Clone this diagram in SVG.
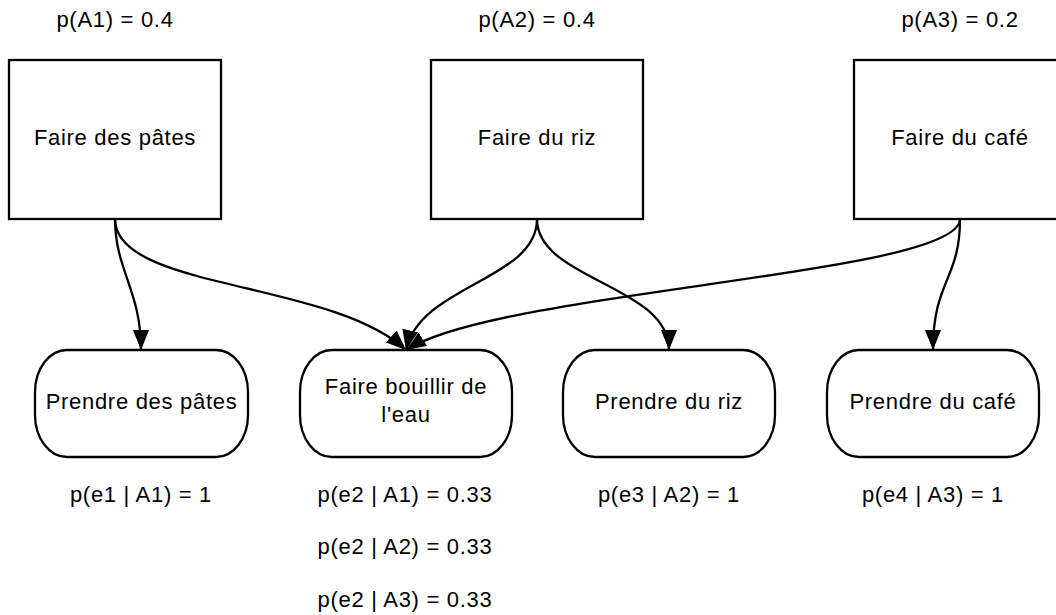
<svg xmlns="http://www.w3.org/2000/svg" width="1056" height="615" viewBox="0 0 1056 615">
  <style>
    .box { fill: #ffffff; stroke: #000000; stroke-width: 2.3; }
    .edge { fill: none; stroke: #000000; stroke-width: 2.3; }
    text { font-family: "Liberation Sans", Arial, sans-serif; font-size: 22px; letter-spacing: 0.7px; fill: #000000; text-anchor: middle; }
  </style>
  <defs>
    <marker id="arrow" markerUnits="userSpaceOnUse" markerWidth="21" markerHeight="17" refX="20" refY="8" orient="auto">
      <path d="M0,0 L20,8 L0,16 Z" fill="#000000"/>
    </marker>
  </defs>
  <rect width="1056" height="615" fill="#ffffff"/>

  <!-- prior probabilities -->
  <g id="priors">
    <text x="115" y="27">p(A1) = 0.4</text>
    <text x="537" y="27">p(A2) = 0.4</text>
    <text x="960" y="27">p(A3) = 0.2</text>
  </g>

  <!-- connectors -->
  <g id="connectors">
    <path class="edge" d="M115,219 C115,270 141,290 141,350" marker-end="url(#arrow)"/>
    <path class="edge" d="M115,219 C115,290 330,280 406,350" marker-end="url(#arrow)"/>
    <path class="edge" d="M537,219 C537,280 420,285 406,350" marker-end="url(#arrow)"/>
    <path class="edge" d="M537,219 C537,280 669,285 669,350" marker-end="url(#arrow)"/>
    <path class="edge" d="M960,219 C960,275 500,290 406,350" marker-end="url(#arrow)"/>
    <path class="edge" d="M960,219 C960,280 933,280 933,350" marker-end="url(#arrow)"/>
  </g>

  <!-- actions -->
  <g id="action-pates">
    <rect class="box" x="9" y="60" width="212" height="159"/>
    <text x="115" y="145">Faire des pâtes</text>
  </g>
  <g id="action-riz">
    <rect class="box" x="431" y="60" width="212" height="159"/>
    <text x="537" y="145">Faire du riz</text>
  </g>
  <g id="action-cafe">
    <rect class="box" x="854" y="60" width="212" height="159"/>
    <text x="960" y="145">Faire du café</text>
  </g>

  <!-- events -->
  <g id="event-pates">
    <rect class="box" x="35" y="350" width="213" height="107" rx="32" ry="42"/>
    <text x="141.5" y="409">Prendre des pâtes</text>
  </g>
  <g id="event-eau">
    <rect class="box" x="300" y="350" width="212" height="107" rx="32" ry="42"/>
    <text x="406" y="394">Faire bouillir de</text>
    <text x="406" y="422">l'eau</text>
  </g>
  <g id="event-riz">
    <rect class="box" x="563" y="350" width="212" height="107" rx="32" ry="42"/>
    <text x="669" y="409">Prendre du riz</text>
  </g>
  <g id="event-cafe">
    <rect class="box" x="827" y="350" width="212" height="107" rx="32" ry="42"/>
    <text x="933" y="409">Prendre du café</text>
  </g>

  <!-- conditional probabilities -->
  <g id="likelihoods">
    <text x="141" y="502">p(e1 | A1) = 1</text>
    <text x="405" y="502">p(e2 | A1) = 0.33</text>
    <text x="405" y="554">p(e2 | A2) = 0.33</text>
    <text x="405" y="607">p(e2 | A3) = 0.33</text>
    <text x="669" y="502">p(e3 | A2) = 1</text>
    <text x="933" y="502">p(e4 | A3) = 1</text>
  </g>
</svg>
